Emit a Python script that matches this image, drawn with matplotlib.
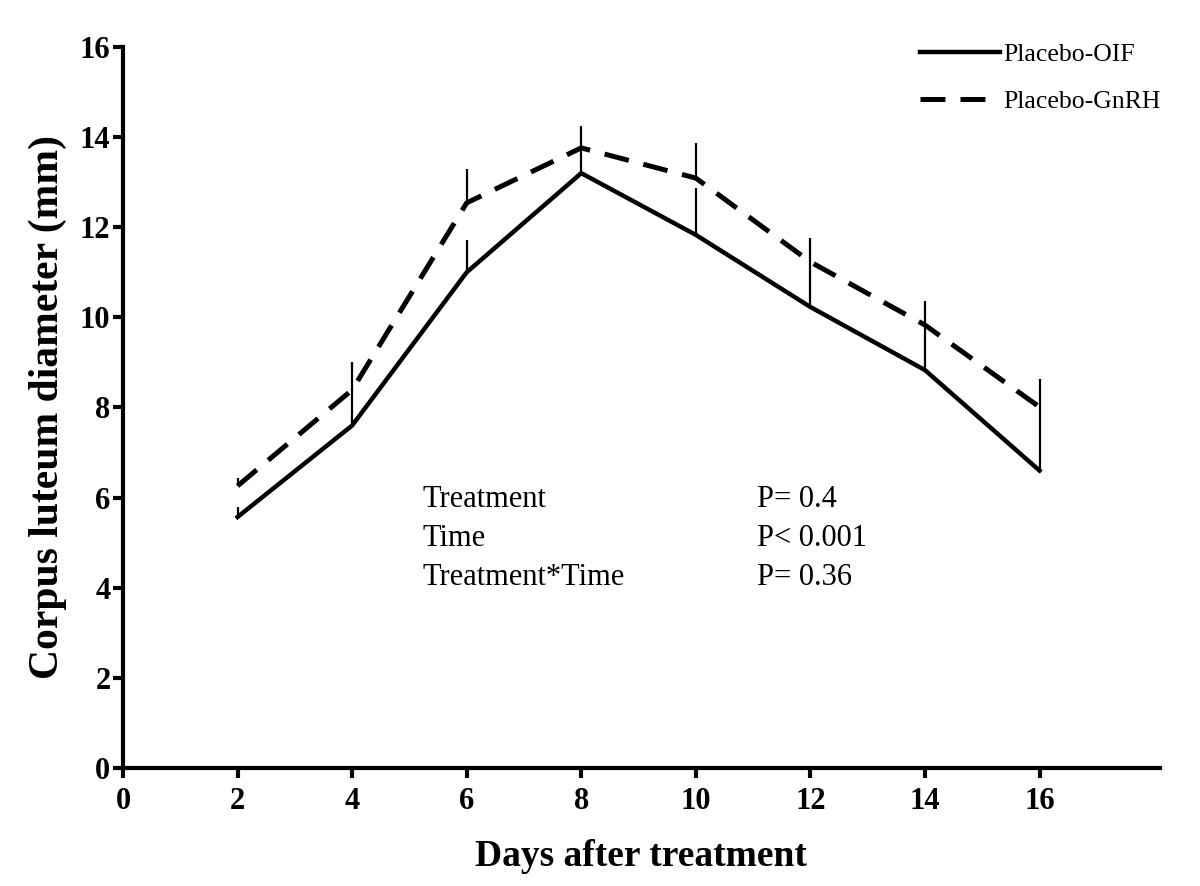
import matplotlib
matplotlib.use("Agg")
import matplotlib.pyplot as plt
from matplotlib.lines import Line2D

days = [2, 4, 6, 8, 10, 12, 14, 16]
oif_mean = [5.57, 7.6, 11.0, 13.2, 11.83, 10.23, 8.83, 6.6]
oif_err = [0.22, 0.8, 0.71, 0.5, 1.04, 1.0, 1.0, 1.4]
gnrh_mean = [6.26, 8.39, 12.54, 13.76, 13.09, 11.23, 9.83, 8.01]
gnrh_err = [0.18, 0.62, 0.75, 0.49, 0.78, 0.53, 0.53, 0.62]
labels = ["Placebo-OIF", "Placebo-GnRH"]
stats_names = ["Treatment", "Time", "Treatment*Time"]
stats_p = ["P= 0.4", "P< 0.001", "P= 0.36"]

plt.rcParams['font.family'] = ['Liberation Serif', 'DejaVu Serif']

fig = plt.figure(figsize=(12, 8.86), dpi=100)
ax = fig.add_axes([0.1025, 0.1332, 0.864, 0.8138])

ax.errorbar(days, oif_mean, yerr=[[0]*len(days), oif_err], color='black',
            lw=3.2, elinewidth=1.6, capsize=0, label=labels[0])
ax.errorbar(days, gnrh_mean, yerr=[[0]*len(days), gnrh_err], color='black',
            lw=3.6, elinewidth=1.6, capsize=0, dashes=(5, 3), label=labels[1])

ax.set_xlim(0, 18.1)
ax.set_ylim(0, 16)
ax.set_xticks(range(0, 17, 2))
ax.set_yticks(range(0, 17, 2))
for s in ['top', 'right']:
    ax.spines[s].set_visible(False)
for s in ['left', 'bottom']:
    ax.spines[s].set_linewidth(3)
ax.tick_params(axis='both', width=3, length=7, direction='out', labelsize=22)
ax.tick_params(axis='x', pad=7)
ax.tick_params(axis='y', pad=2)
for lab in ax.get_xticklabels() + ax.get_yticklabels():
    lab.set_fontweight('bold')

ax.set_xlabel("Days after treatment", fontsize=27, fontweight='bold', labelpad=16)
ax.set_ylabel("Corpus luteum diameter (mm)", fontsize=30, fontweight='bold', labelpad=9)

ys = [5.95, 5.1, 4.22]
for name, p, y in zip(stats_names, stats_p, ys):
    ax.text(5.22, y, name, fontsize=22, va='center', ha='left')
    ax.text(11.06, y, p, fontsize=22, va='center', ha='left')

handles = [Line2D([], [], color='black', lw=3.2),
           Line2D([], [], color='black', lw=3.6, dashes=(5, 3))]
fig.legend(handles, labels, loc='upper left', bbox_to_anchor=(0.7667, 0.952),
           frameon=False, fontsize=18.5, handlelength=3.1, handletextpad=0.15,
           labelspacing=0.95, borderpad=0, borderaxespad=0)

fig.savefig("out.png", dpi=100)
